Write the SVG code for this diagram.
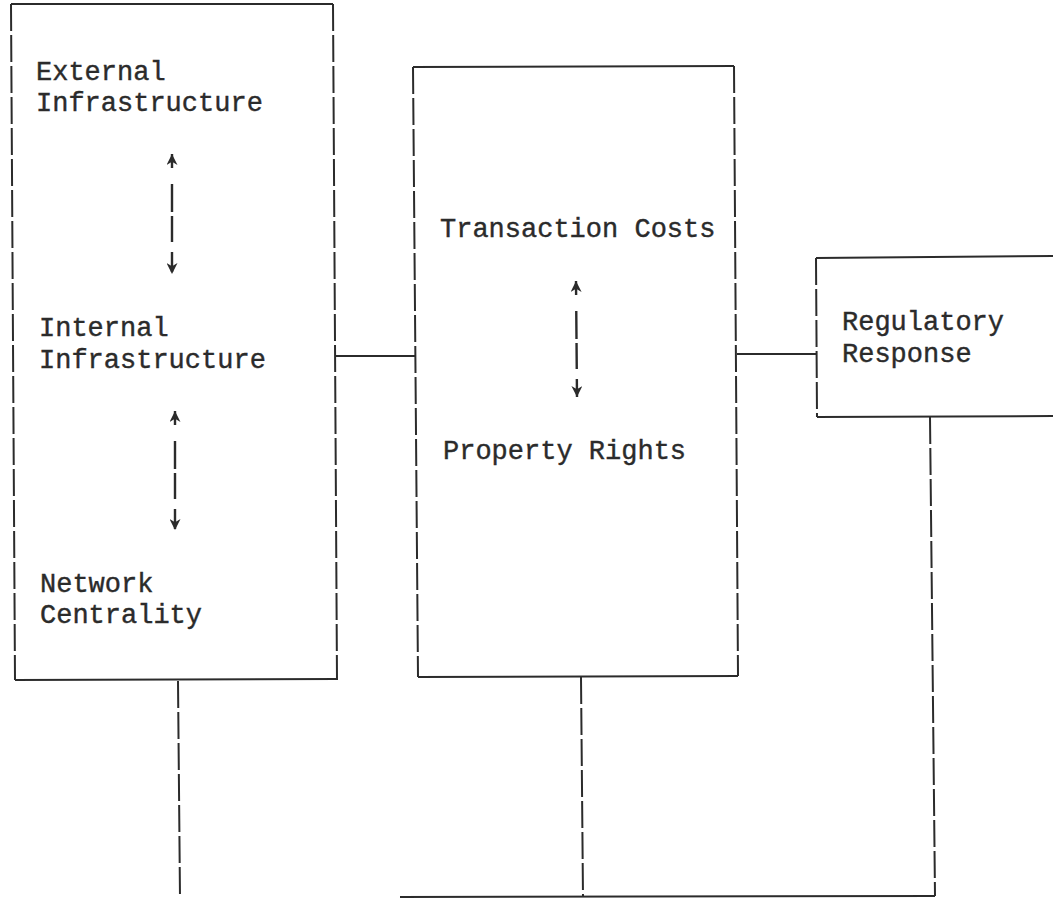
<svg xmlns="http://www.w3.org/2000/svg" width="1053" height="898" viewBox="0 0 1053 898">
<defs>
<style>
.box{fill:none;stroke:#2b2b2b;stroke-width:2}
.v{fill:none;stroke:#2b2b2b;stroke-width:2;stroke-dasharray:27 4}
.h{fill:none;stroke:#2b2b2b;stroke-width:2}
.arr{fill:none;stroke:#2b2b2b;stroke-width:2.4;stroke-dasharray:14 16 28 4 26 10 20;marker-start:url(#ah);marker-end:url(#ah)}
text{font-family:"Liberation Mono","DejaVu Sans Mono",monospace;font-size:27px;fill:#2b2b2b;stroke:#2b2b2b;stroke-width:0.4}
</style>
<marker id="ah" viewBox="0 0 10 10" refX="10" refY="5" markerWidth="12" markerHeight="11" markerUnits="userSpaceOnUse" orient="auto-start-reverse">
<path d="M0,0 L10,5 L0,10 L3,5 Z" fill="#2b2b2b"/>
</marker>
</defs>
<rect width="1053" height="898" fill="#fff"/>
<g id="left-box">
<line class="h" x1="11" y1="4" x2="333" y2="4"/>
<line class="v" x1="11" y1="4" x2="15" y2="680"/>
<line class="v" x1="333" y1="4" x2="337" y2="680"/>
<line class="h" x1="15" y1="680" x2="337" y2="679"/>
<text x="36" y="80">External</text>
<text x="36" y="111">Infrastructure</text>
<text x="39" y="336">Internal</text>
<text x="39" y="368">Infrastructure</text>
<text x="40" y="592">Network</text>
<text x="40" y="623">Centrality</text>
<path class="arr" d="M172,154 L172,274"/>
<path class="arr" d="M175,411 L175,530"/>
</g>
<g id="middle-box">
<line class="h" x1="413" y1="67" x2="734" y2="66"/>
<line class="v" x1="413" y1="67" x2="418" y2="677"/>
<line class="v" x1="734" y1="66" x2="738" y2="676"/>
<line class="h" x1="418" y1="677" x2="738" y2="676"/>
<text x="440" y="237">Transaction Costs</text>
<text x="443" y="459">Property Rights</text>
<path class="arr" d="M576,281 L577,397"/>
</g>
<g id="regulatory-box">
<line class="h" x1="816" y1="258" x2="1060" y2="256"/>
<line class="v" x1="816" y1="258" x2="817" y2="417"/>
<line class="h" x1="817" y1="417" x2="1060" y2="416"/>
<text x="842" y="330">Regulatory</text>
<text x="842" y="362">Response</text>
</g>
<g id="connectors">
<line class="h" x1="335" y1="356" x2="415" y2="356"/>
<line class="h" x1="737" y1="354" x2="817" y2="354"/>
<line class="v" x1="178" y1="681" x2="180" y2="898"/>
<line class="v" x1="581" y1="677" x2="583" y2="897"/>
<line class="v" x1="930" y1="417" x2="935" y2="896"/>
<line class="h" x1="400" y1="897" x2="935" y2="896"/>
</g>
</svg>
